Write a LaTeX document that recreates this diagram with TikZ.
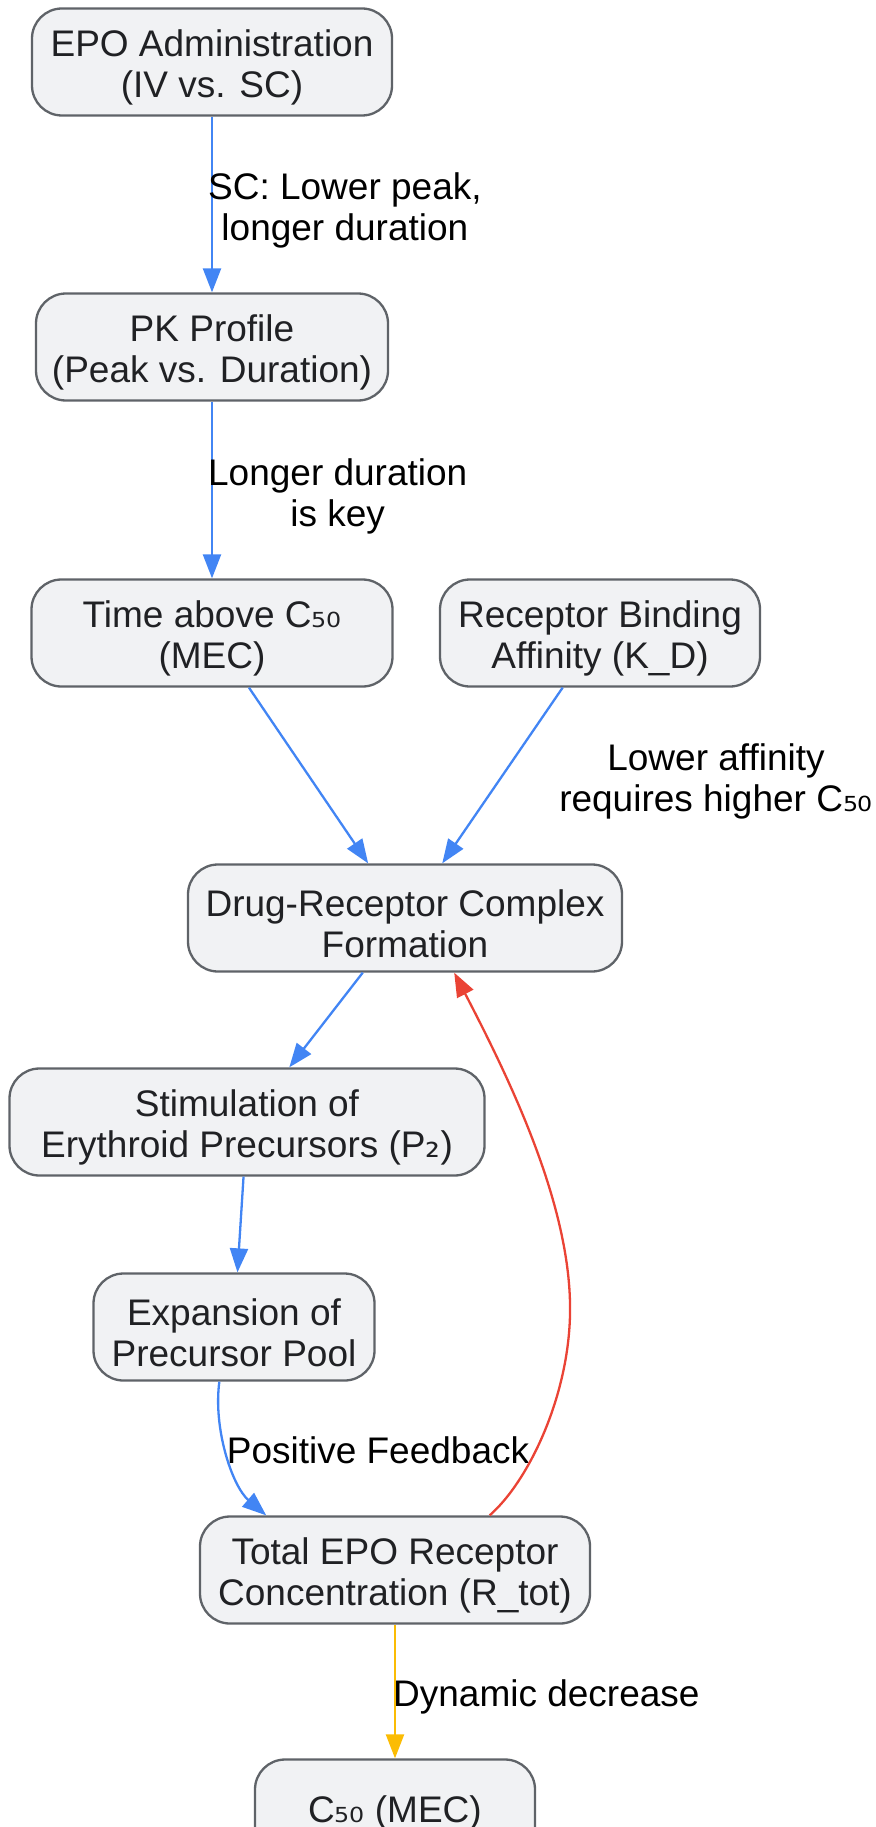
\documentclass[tikz,border=0pt]{standalone}
\usepackage{fontspec}
\usepackage{xcolor}
\setmainfont{Liberation Sans}
\newfontfamily\digfont{DejaVu Sans}
\usetikzlibrary{arrows.meta, positioning}

\definecolor{boxfill}{HTML}{F1F2F4}
\definecolor{boxline}{HTML}{5F6368}
\definecolor{boxtext}{HTML}{202124}
\definecolor{edgeblue}{HTML}{4285F4}
\definecolor{edgered}{HTML}{EA4335}
\definecolor{edgeamber}{HTML}{FBBC04}

\newcommand{\lowdig}[1]{{\digfont #1}}
\newcommand{\boxlift}{\rule{0pt}{38pt}}

\tikzset{
    box/.style={draw=boxline, fill=boxfill, text=boxtext, line width=2.3pt,
        rounded corners=30pt, minimum height=107pt, align=center, inner sep=0pt,
        font=\fontsize{37}{41}\selectfont},
    flow/.style={-{Triangle[length=24pt,width=18pt]}, line width=2.3pt, draw=edgeblue},
    lbl/.style={align=center, inner sep=0pt, text=black, font=\fontsize{37}{41}\selectfont},
}

\begin{document}
\begin{tikzpicture}[x=1pt, y=-1pt]
        \useasboundingbox (0, 0) rectangle (875, 1827);

        \node[box, minimum width=360pt] (epo) at (212, 62) {\boxlift EPO Administration\\(IV vs. SC)};
        \node[box, minimum width=352pt] (pk) at (212, 347) {\boxlift PK Profile\\(Peak vs. Duration)};
        \node[box, minimum width=361pt] (time) at (212, 633) {\boxlift Time above C\lowdig{₅₀}\\(MEC)};
        \node[box, minimum width=320pt] (kd) at (600, 633) {\boxlift Receptor Binding\\Affinity (K\_D)};
        \node[box, minimum width=434pt] (drc) at (405, 918) {\boxlift Drug-Receptor Complex\\Formation};
        \node[box, minimum width=475pt] (stim) at (247, 1122) {\boxlift Stimulation of\\Erythroid Precursors (P\lowdig{₂})};
        \node[box, minimum width=281pt] (pool) at (234, 1327) {\boxlift Expansion of\\Precursor Pool};
        \node[box, minimum width=390pt] (rtot) at (395, 1570) {\boxlift Total EPO Receptor\\Concentration (R\_tot)};
        \node[box, minimum width=280pt] (mec) at (395, 1813) {C\lowdig{₅₀} (MEC)};

        \draw[flow] (epo) to node[lbl, anchor=west, xshift=-5pt, yshift=-6pt] (l1) {SC: Lower peak,\\longer duration} (pk);
        \draw[flow] (pk) to node[lbl, anchor=west, xshift=-5pt, yshift=-6pt] (l2) {Longer duration\\is key} (time);
        \draw[flow] (time) to (drc);
        \draw[flow] (kd) to (drc);
        \node[lbl] (l3) at (716, 781) {Lower affinity\\requires higher C\lowdig{₅₀}};
        \draw[flow] (drc) to (stim);
        \draw[flow] (stim) to (pool);
        \draw[flow] (pool.255) .. controls (213, 1428) and (232, 1486) .. (rtot.157);
        \node[lbl] (l4) at (378, 1450) {Positive Feedback};
        \draw[flow, draw=edgered] (rtot.30) .. controls (530, 1480) and (572, 1390) .. (570, 1303)
            .. controls (568, 1200) and (510, 1080) .. (drc.-48);
        \draw[flow, draw=edgeamber] (rtot) to node[lbl, anchor=west, xshift=-3pt, yshift=-5pt] (l5) {Dynamic decrease} (mec);
    \end{tikzpicture}
\end{document}
